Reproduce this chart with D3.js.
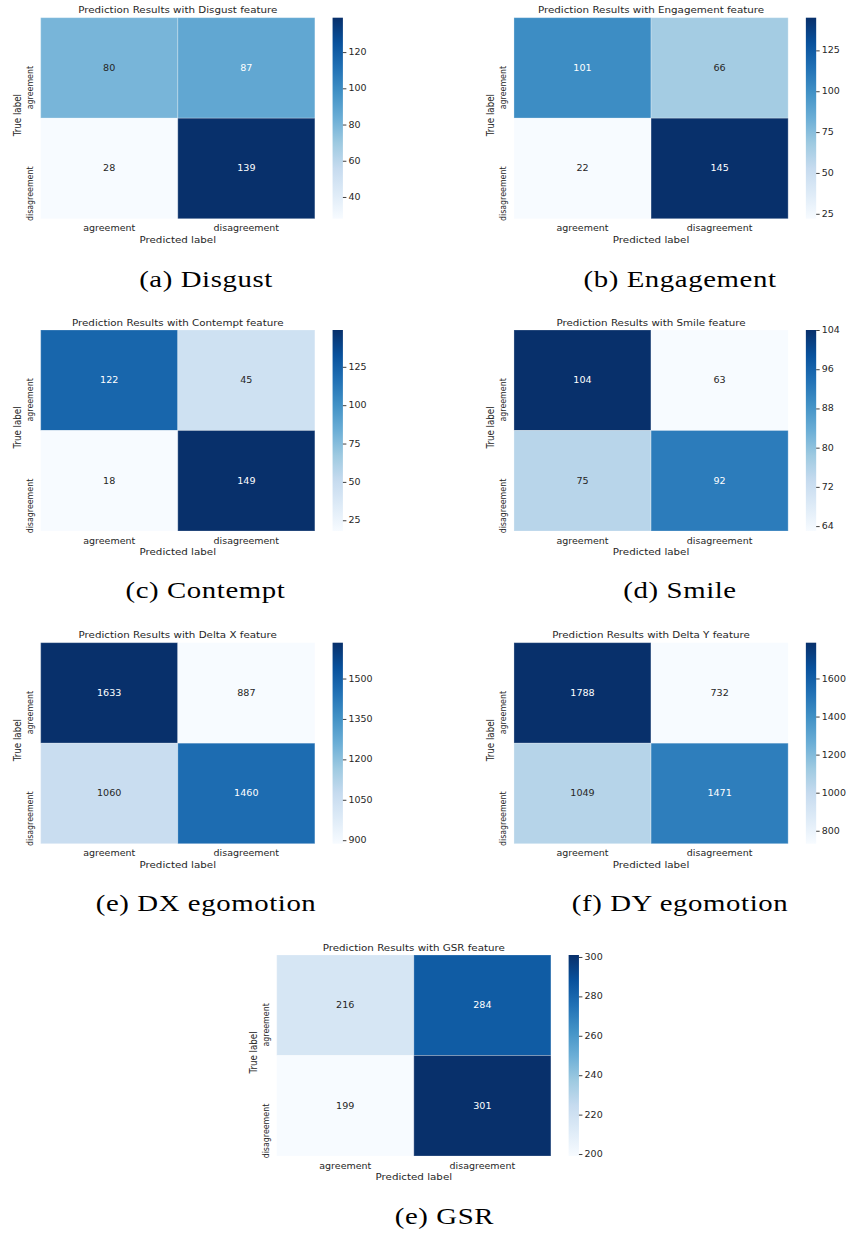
<!DOCTYPE html>
<html><head><meta charset="utf-8">
<script src="https://cdn.jsdelivr.net/npm/d3@7"></script>
<style>html,body{margin:0;padding:0;background:#fff;} svg{display:block;}</style>
</head><body>
<script>
// ---------- data ----------
const classLabels = ["agreement", "disagreement"];
const featureNames = ["Disgust", "Engagement", "Contempt", "Smile", "Delta X", "Delta Y", "GSR"];
const captionTexts = ["(a) Disgust", "(b) Engagement", "(c) Contempt", "(d) Smile", "(e) DX egomotion", "(f) DY egomotion", "(e) GSR"];
const disgustValues = [[80, 87], [28, 139]];
const engagementValues = [[101, 66], [22, 145]];
const contemptValues = [[122, 45], [18, 149]];
const smileValues = [[104, 63], [75, 92]];
const deltaXValues = [[1633, 887], [1060, 1460]];
const deltaYValues = [[1788, 732], [1049, 1471]];
const gsrValues = [[216, 284], [199, 301]];
const disgustTicks = [40, 60, 80, 100, 120];
const engagementTicks = [25, 50, 75, 100, 125];
const contemptTicks = [25, 50, 75, 100, 125];
const smileTicks = [64, 72, 80, 88, 96, 104];
const deltaXTicks = [900, 1050, 1200, 1350, 1500];
const deltaYTicks = [800, 1000, 1200, 1400, 1600];
const gsrTicks = [200, 220, 240, 260, 280, 300];
const bluesStops = ['#f7fbff','#deebf7','#c6dbef','#9ecae1','#6baed6','#4292c6','#2171b5','#08519c','#08306b'];

const matrices = [disgustValues, engagementValues, contemptValues, smileValues, deltaXValues, deltaYValues, gsrValues];
const tickSets = [disgustTicks, engagementTicks, contemptTicks, smileTicks, deltaXTicks, deltaYTicks, gsrTicks];

// ---------- layout (unstretched coordinates; the picture is stretched 1.2x horizontally) ----------
const W = 846, H = 1237, SX = 1.2, VW = W / SX;
const HM_W = 228.5, HM_H = 201;
const layout = [
  {x: 33.9,  y: 17.7,  cx: 171.7, cy: 287.3},
  {x: 428.3, y: 17.7,  cx: 566.7, cy: 287.3},
  {x: 33.9,  y: 330,   cx: 171.2, cy: 598.3},
  {x: 428.3, y: 330,   cx: 566.7, cy: 598.3},
  {x: 33.9,  y: 642.7, cx: 171.7, cy: 911.3},
  {x: 428.3, y: 642.7, cx: 566.7, cy: 911.5},
  {x: 230.6, y: 955,   cx: 370.4, cy: 1224.3}
];
const TXT = '#262626';
const SANS = '"DejaVu Sans", sans-serif';

const cmap = d3.scaleLinear()
  .domain(d3.range(bluesStops.length).map(i => i / (bluesStops.length - 1)))
  .range(bluesStops).interpolate(d3.interpolateRgb).clamp(true);

function relLum(c) {
  const r = d3.rgb(c);
  const f = v => { v /= 255; return v <= 0.03928 ? v / 12.92 : Math.pow((v + 0.055) / 1.055, 2.4); };
  return 0.2126 * f(r.r) + 0.7152 * f(r.g) + 0.0722 * f(r.b);
}

const svg = d3.select('body').append('svg')
  .attr('width', W).attr('height', H)
  .attr('viewBox', `0 0 ${VW} ${H}`)
  .attr('preserveAspectRatio', 'none');
const defs = svg.append('defs');

matrices.forEach((values, pi) => {
  const L = layout[pi];
  const g = svg.append('g').attr('transform', `translate(${L.x},${L.y})`);
  const [vmin, vmax] = d3.extent(values.flat());
  const color = v => cmap((v - vmin) / (vmax - vmin));
  const x = d3.scaleBand().domain(classLabels).range([0, HM_W]);
  const y = d3.scaleBand().domain(classLabels).range([0, HM_H]);

  const cells = [];
  values.forEach((row, r) => row.forEach((v, c) => cells.push({r: classLabels[r], c: classLabels[c], v})));

  g.selectAll('rect.cell').data(cells).join('rect')
    .attr('class', 'cell')
    .attr('x', d => x(d.c)).attr('y', d => y(d.r))
    .attr('width', x.bandwidth()).attr('height', y.bandwidth())
    .attr('fill', d => color(d.v))
    .attr('stroke', 'rgba(255,255,255,0.25)').attr('stroke-width', 0.9);

  g.selectAll('text.annot').data(cells).join('text')
    .attr('class', 'annot')
    .attr('x', d => x(d.c) + x.bandwidth() / 2)
    .attr('y', d => y(d.r) + y.bandwidth() / 2)
    .attr('dy', '0.36em')
    .attr('text-anchor', 'middle')
    .style('font-family', SANS).style('font-size', '8px')
    .attr('fill', d => relLum(color(d.v)) > 0.408 ? TXT : '#ffffff')
    .text(d => d.v);

  // title
  g.append('text').attr('x', HM_W / 2).attr('y', -4.4)
    .attr('text-anchor', 'middle').attr('fill', TXT)
    .style('font-family', SANS).style('font-size', '8.6px')
    .text(`Prediction Results with ${featureNames[pi]} feature`);

  // x axis
  const xa = g.append('g').attr('transform', `translate(0,${HM_H})`)
    .call(d3.axisBottom(x).tickSize(0).tickPadding(6.9));
  xa.select('.domain').remove();
  xa.selectAll('text').attr('fill', TXT).style('font-family', SANS).style('font-size', '7.9px');

  g.append('text').attr('x', HM_W / 2).attr('y', HM_H + 24)
    .attr('text-anchor', 'middle').attr('fill', TXT)
    .style('font-family', SANS).style('font-size', '8.6px')
    .text('Predicted label');

  // y tick labels (rotated)
  g.selectAll('text.ytick').data(classLabels).join('text')
    .attr('class', 'ytick')
    .attr('transform', d => `translate(-6.6,${y(d) + y.bandwidth() / 2 - 2}) rotate(-90)`)
    .attr('text-anchor', 'end').attr('fill', TXT)
    .style('font-family', SANS).style('font-size', '7.9px')
    .text(d => d);

  g.append('text')
    .attr('transform', `translate(-16.7,${HM_H / 2 - 3}) rotate(-90)`)
    .attr('text-anchor', 'middle').attr('fill', TXT)
    .style('font-family', SANS).style('font-size', '8.7px')
    .text('True label');

  // colorbar
  const gid = `cbgrad${pi}`;
  const grad = defs.append('linearGradient').attr('id', gid)
    .attr('x1', 0).attr('y1', 1).attr('x2', 0).attr('y2', 0);
  bluesStops.forEach((c, i) => grad.append('stop')
    .attr('offset', i / (bluesStops.length - 1)).attr('stop-color', c));
  const cbX = HM_W + 14.75, cbW = 8.6;
  const cb = g.append('g').attr('transform', `translate(${cbX},0)`);
  cb.append('rect').attr('width', cbW).attr('height', HM_H).attr('fill', `url(#${gid})`);
  const cs = d3.scaleLinear().domain([vmin, vmax]).range([HM_H, 0]);
  const ca = cb.append('g').attr('transform', `translate(${cbW},0)`)
    .call(d3.axisRight(cs).tickValues(tickSets[pi]).tickSize(2.9).tickPadding(1.8).tickFormat(d3.format('d')));
  ca.select('.domain').remove();
  ca.selectAll('line').attr('stroke', TXT).attr('stroke-width', 0.8);
  ca.selectAll('text').attr('fill', TXT).style('font-family', SANS).style('font-size', '7.9px');

  // caption
  svg.append('text').attr('x', L.cx).attr('y', L.cy)
    .attr('text-anchor', 'middle').attr('fill', '#000')
    .style('font-family', '"Liberation Serif", "Times New Roman", serif')
    .style('font-size', '24px').style('letter-spacing', '0.5px')
    .text(captionTexts[pi]);
});
</script>
</body></html>
